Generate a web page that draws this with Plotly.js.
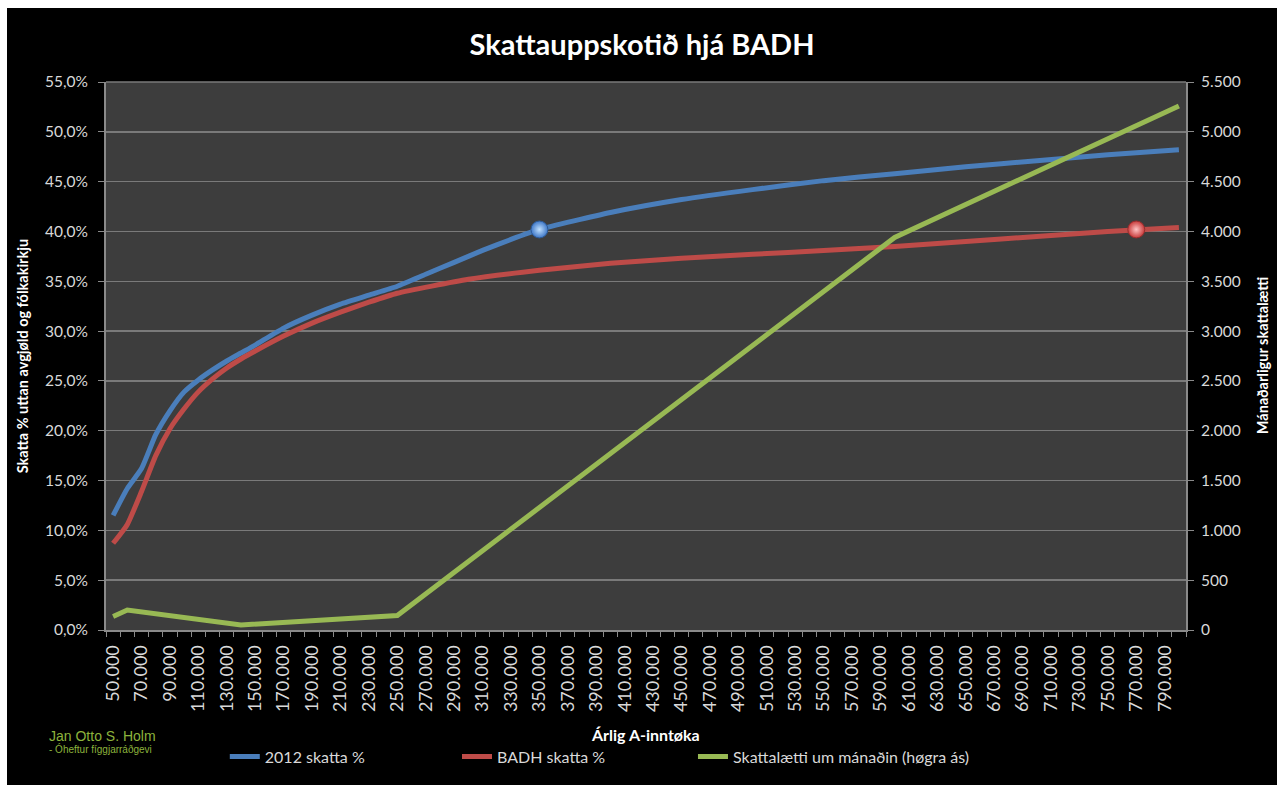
<!DOCTYPE html>
<html>
<head>
<meta charset="utf-8">
<script src="https://cdn.plot.ly/plotly-3.0.1.min.js"></script>
<style>
  html, body { margin: 0; padding: 0; background: #ffffff; width: 1277px; height: 785px; overflow: hidden; }
  #chart { position: absolute; left: 7px; top: 8px; width: 1270px; height: 777px; }
</style>
</head>
<body>
<div id="chart"></div>
<script>
// ---- data ----
const incomeTax = [50000, 60000, 70000, 80000, 90000, 100000, 110000, 120000, 130000, 140000, 150000,
                   170000, 190000, 210000, 230000, 250000, 270000, 290000, 310000, 330000, 350000,
                   400000, 450000, 500000, 550000, 600000, 650000, 700000, 750000, 800000];
const tax2012 = [11.5, 14.2, 16.2, 19.6, 22.0, 23.9, 25.1, 26.1, 27.0, 27.8, 28.6,
                 30.3, 31.6, 32.7, 33.6, 34.5, 35.7, 36.9, 38.1, 39.2, 40.2,
                 41.9, 43.2, 44.2, 45.1, 45.8, 46.5, 47.1, 47.7, 48.2];

const incomeBadh = [50000, 60000, 70000, 80000, 90000, 100000, 110000, 120000, 130000, 140000, 150000,
                    170000, 190000, 210000, 230000, 250000, 300000, 350000, 400000, 450000, 500000,
                    550000, 600000, 650000, 700000, 750000, 800000];
const taxBadh = [8.7, 10.6, 13.9, 17.5, 20.2, 22.2, 23.9, 25.2, 26.3, 27.2, 28.0,
                 29.5, 30.8, 31.9, 32.9, 33.8, 35.2, 36.1, 36.8, 37.3, 37.7,
                 38.1, 38.5, 39.0, 39.5, 40.0, 40.4];

const incomeRelief = [50000, 60000, 140000, 250000, 600000, 800000];
const reliefMonthly = [135, 200, 50, 145, 3940, 5260];

const markerBlueX = [350000], markerBlueY = [40.2];
const markerRedX = [770000], markerRedY = [40.2];

const names = ["2012 skatta %", "BADH skatta %", "Skattalætti um mánaðin (høgra ás)"];
const colors = ["#4A7EBB", "#BE4B48", "#98B954"];

const fontFam = "Lato, 'Open Sans', sans-serif";
const yTickFont = {family: fontFam, size: 15.5, color: "#d9d9d9"};
const xTickFont = {family: fontFam, size: 18, color: "#d9d9d9"};
const legendFont = {family: fontFam, size: 16, color: "#d9d9d9"};

const traces = [
  {x: incomeTax, y: tax2012, name: names[0], type: "scatter", mode: "lines", legend: "legend",
   line: {color: colors[0], width: 5, shape: "spline", smoothing: 0.5}},
  {x: incomeBadh, y: taxBadh, name: names[1], type: "scatter", mode: "lines", legend: "legend2",
   line: {color: colors[1], width: 5, shape: "spline", smoothing: 0.5}},
  {x: incomeRelief, y: reliefMonthly, name: names[2], type: "scatter", mode: "lines", yaxis: "y2", legend: "legend3",
   line: {color: colors[2], width: 5}},
  {x: markerBlueX, y: markerBlueY, type: "scatter", mode: "markers", showlegend: false, hoverinfo: "skip",
   marker: {size: 17, color: "#3f78c8", line: {width: 1, color: "#2d5a96"},
            gradient: {type: "radial", color: "#bfe0ff"}}},
  {x: markerRedX, y: markerRedY, type: "scatter", mode: "markers", showlegend: false, hoverinfo: "skip",
   marker: {size: 17, color: "#c83a3a", line: {width: 1, color: "#962d2d"},
            gradient: {type: "radial", color: "#ffc4c4"}}}
];

function legendAt(x) {
  return {orientation: "h", x: x, xanchor: "left", y: -0.231, yanchor: "middle",
          font: legendFont, bgcolor: "rgba(0,0,0,0)", itemwidth: 30};
}

const layout = {
  width: 1270, height: 777,
  paper_bgcolor: "#000000",
  plot_bgcolor: "#3d3d3d",
  separators: ",.",
  margin: {l: 99, r: 91, t: 74, b: 153},
  title: {text: "Skattauppskotið hjá BADH", font: {family: fontFam, size: 29, color: "#ffffff", weight: "bold"},
          x: 0.5, xanchor: "center", y: 0.952, yanchor: "middle"},
  showlegend: true,
  legend: legendAt(0.110),
  legend2: legendAt(0.325),
  legend3: legendAt(0.5435),
  xaxis: {
    range: [45000, 805000], tickmode: "linear", tick0: 50000, dtick: 20000,
    tickformat: ",d", tickangle: -90, ticks: "", showgrid: false, zeroline: false,
    showline: true, linecolor: "#8a8a8a", linewidth: 2, ticklabelstandoff: 6,
    tickfont: xTickFont,
    minor: {ticks: "outside", tick0: 45000, dtick: 10000, ticklen: 5, tickcolor: "#8a8a8a", tickwidth: 1, showgrid: false}
  },
  yaxis: {
    range: [0, 55], tickmode: "linear", tick0: 0, dtick: 5, tickformat: ".1f", ticksuffix: "%",
    ticks: "outside", ticklen: 6, tickcolor: "#8a8a8a", showline: true, linecolor: "#8a8a8a", linewidth: 2,
    gridcolor: "#7a7a7a", gridwidth: 1.5, zeroline: false, tickfont: yTickFont, ticklabelstandoff: 7
  },
  yaxis2: {
    overlaying: "y", side: "right", range: [0, 5500], tickmode: "linear", tick0: 0, dtick: 500,
    tickformat: ",d", ticks: "outside", ticklen: 6, tickcolor: "#8a8a8a", showline: true, linecolor: "#8a8a8a",
    linewidth: 2, showgrid: false, zeroline: false, tickfont: yTickFont, ticklabelstandoff: 4
  },
  shapes: [
    {type: "line", xref: "paper", yref: "paper", x0: 0, x1: 1, y0: 1, y1: 1, line: {color: "#7a7a7a", width: 1.5}}
  ],
  annotations: [
    {text: "<b>Skatta % uttan avgjøld og fólkakirkju</b>", xref: "paper", yref: "paper",
     x: -0.0775, y: 0.5, xanchor: "center", yanchor: "middle", textangle: -90, showarrow: false,
     font: {family: fontFam, size: 14.5, color: "#ffffff"}},
    {text: "<b>Mánaðarligur skattalætti</b>", xref: "paper", yref: "paper",
     x: 1.0705, y: 0.5, xanchor: "center", yanchor: "middle", textangle: -90, showarrow: false,
     font: {family: fontFam, size: 14.5, color: "#ffffff"}},
    {text: "<b>Árlig A-inntøka</b>", xref: "paper", yref: "paper",
     x: 0.4995, y: -0.19, xanchor: "center", yanchor: "middle", showarrow: false,
     font: {family: fontFam, size: 16, color: "#ffffff"}},
    {text: "Jan Otto S. Holm", xref: "paper", yref: "paper",
     x: -0.0545, y: -0.194, xanchor: "left", yanchor: "middle", showarrow: false,
     font: {family: "Liberation Sans, Arial, sans-serif", size: 14, color: "#8cb33c"}},
    {text: "- Óheftur fíggjarráðgevi", xref: "paper", yref: "paper",
     x: -0.0545, y: -0.218, xanchor: "left", yanchor: "middle", showarrow: false,
     font: {family: "Liberation Sans, Arial, sans-serif", size: 10, color: "#8cb33c"}}
  ]
};

Plotly.newPlot("chart", traces, layout, {displayModeBar: false, staticPlot: true});
</script>
</body>
</html>
